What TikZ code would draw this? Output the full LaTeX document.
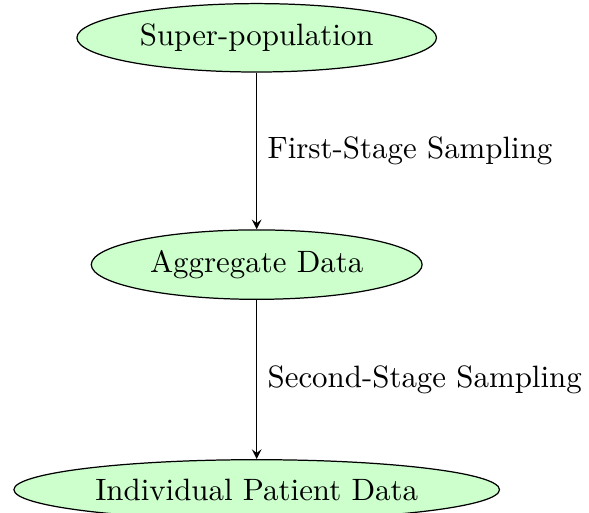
\documentclass[tikz,border=0pt]{standalone}
\usepackage{tikz}
\usetikzlibrary{shapes.geometric}

\begin{document}
\begin{tikzpicture}[>=stealth,
    stage/.style={ellipse, draw, fill=green!20}]
    \useasboundingbox (0,0) rectangle (6.70,-5.83);

    % Levels
    \node[stage] (super) at (2.92,-0.43) {Super-population};
    \node[stage] (agg) at (2.92,-3.01) {Aggregate Data};
    \node[stage] (ipd) at (2.92,-5.57) {Individual Patient Data};

    % Sampling steps
    \draw[->] (super) -- node[right] {First-Stage Sampling} (agg);
    \draw[->] (agg) -- node[right] {Second-Stage Sampling} (ipd);
\end{tikzpicture}
\end{document}
